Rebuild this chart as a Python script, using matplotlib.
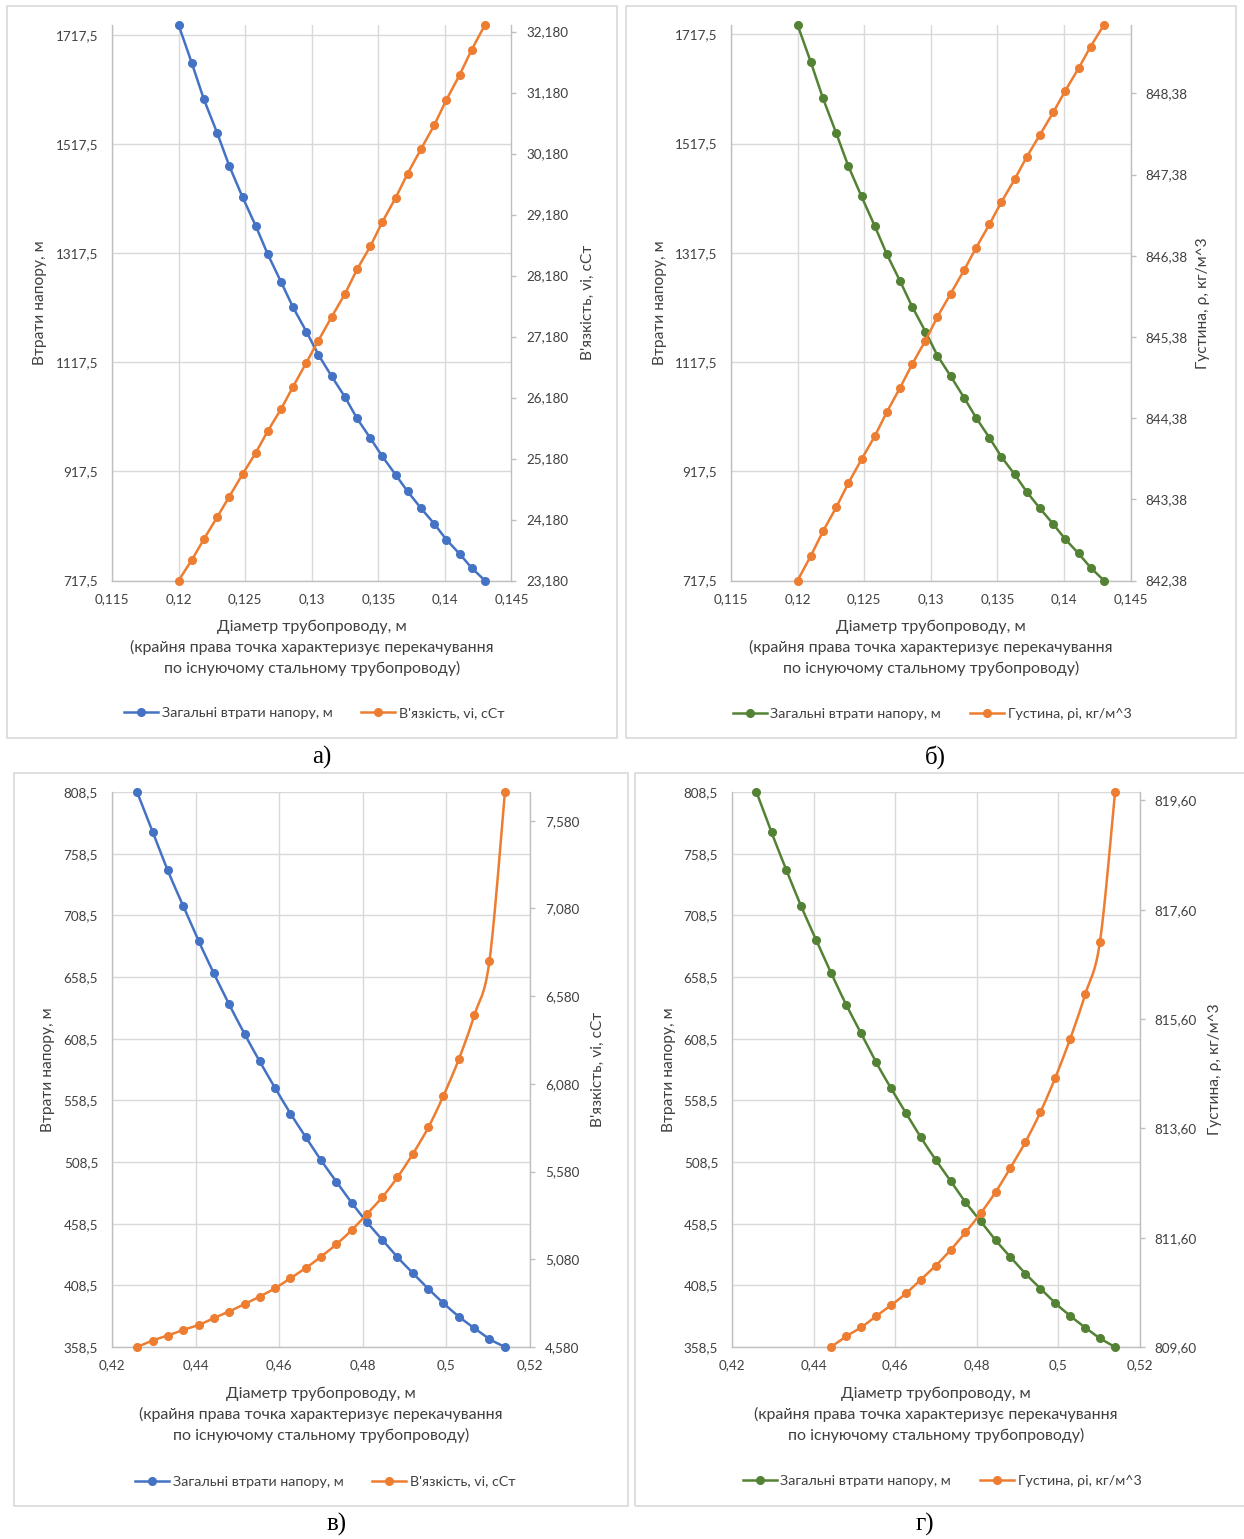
import numpy as np
import matplotlib
matplotlib.use('Agg')
import matplotlib.pyplot as plt
from matplotlib.patches import Rectangle
from matplotlib.ticker import FixedLocator, FixedFormatter

# ---------------- data ----------------
diam_small = [0.1200, 0.1210, 0.1219, 0.1229, 0.1238, 0.1248, 0.1258, 0.1267, 0.1277,
              0.1286, 0.1296, 0.1305, 0.1315, 0.1325, 0.1334, 0.1344, 0.1353, 0.1363,
              0.1372, 0.1382, 0.1392, 0.1401, 0.1411, 0.1420, 0.1430]
diam_large = [0.4260, 0.4297, 0.4333, 0.4370, 0.4407, 0.4443, 0.4480, 0.4517, 0.4553,
              0.4590, 0.4627, 0.4663, 0.4700, 0.4737, 0.4773, 0.4810, 0.4847, 0.4883,
              0.4920, 0.4957, 0.4993, 0.5030, 0.5067, 0.5103, 0.5140]

head_a = [1735.2, 1665.0, 1599.0, 1537.3, 1477.5, 1420.0, 1366.8, 1315.0, 1264.2, 1217.8,
          1173.3, 1131.1, 1091.4, 1053.4, 1014.4, 978.3, 944.8, 911.2, 880.6, 850.0,
          821.4, 792.6, 766.4, 740.8, 717.5]
visc_a = [23.180, 23.518, 23.858, 24.220, 24.553, 24.921, 25.276, 25.632, 25.993, 26.360,
          26.754, 27.115, 27.504, 27.882, 28.281, 28.659, 29.059, 29.454, 29.853, 30.252,
          30.646, 31.057, 31.467, 31.878, 32.288]

head_b = [1734.6, 1666.3, 1600.9, 1536.7, 1476.8, 1420.7, 1366.3, 1315.0, 1265.5, 1219.1,
          1173.3, 1129.3, 1091.4, 1052.3, 1015.7, 979.0, 944.2, 911.8, 880.1, 849.5,
          820.7, 793.2, 767.0, 741.3, 717.5]
dens_b = [842.380, 842.685, 842.984, 843.280, 843.576, 843.872, 844.159, 844.455, 844.756,
          845.043, 845.336, 845.627, 845.915, 846.202, 846.477, 846.766, 847.041, 847.321,
          847.596, 847.871, 848.147, 848.413, 848.689, 848.956, 849.223]

head_v = [808.5, 776.3, 745.2, 716.3, 687.9, 661.9, 636.5, 612.4, 590.3, 568.6, 547.8,
          528.9, 510.0, 492.4, 475.6, 459.7, 445.3, 431.3, 418.3, 405.6, 394.0, 383.1,
          373.7, 365.0, 358.5]
visc_v = [4.580, 4.617, 4.645, 4.677, 4.705, 4.744, 4.782, 4.825, 4.867, 4.915, 4.972,
          5.029, 5.095, 5.166, 5.245, 5.338, 5.435, 5.548, 5.682, 5.833, 6.013, 6.222,
          6.473, 6.781, 7.744]

head_g = [808.5, 775.8, 745.5, 715.7, 688.1, 661.9, 636.2, 612.7, 589.7, 568.4, 548.1,
          528.6, 510.2, 492.9, 475.9, 460.5, 445.1, 431.5, 418.0, 405.8, 394.2, 383.7,
          374.2, 365.6, 358.5]
dens_g = [np.nan, np.nan, np.nan, np.nan, np.nan,
          809.600, 809.794, 809.959, 810.160, 810.361, 810.581, 810.831, 811.087, 811.380,
          811.697, 812.044, 812.436, 812.875, 813.350, 813.899, 814.521, 815.240, 816.058,
          817.015, 819.754]

xticks_small = [0.115, 0.12, 0.125, 0.13, 0.135, 0.14, 0.145]
xlabels_small = ['0,115', '0,12', '0,125', '0,13', '0,135', '0,14', '0,145']
xticks_large = [0.42, 0.44, 0.46, 0.48, 0.50, 0.52]
xlabels_large = ['0,42', '0,44', '0,46', '0,48', '0,5', '0,52']

lticks_top = [717.5, 917.5, 1117.5, 1317.5, 1517.5, 1717.5]
llabels_top = ['717,5', '917,5', '1117,5', '1317,5', '1517,5', '1717,5']
lticks_bot = [358.5, 408.5, 458.5, 508.5, 558.5, 608.5, 658.5, 708.5, 758.5, 808.5]
llabels_bot = ['358,5', '408,5', '458,5', '508,5', '558,5', '608,5', '658,5', '708,5',
               '758,5', '808,5']

rticks_a = [23.18, 24.18, 25.18, 26.18, 27.18, 28.18, 29.18, 30.18, 31.18, 32.18]
rlabels_a = ['23,180', '24,180', '25,180', '26,180', '27,180', '28,180', '29,180',
             '30,180', '31,180', '32,180']
rticks_b = [842.38, 843.38, 844.38, 845.38, 846.38, 847.38, 848.38]
rlabels_b = ['842,38', '843,38', '844,38', '845,38', '846,38', '847,38', '848,38']
rticks_v = [4.58, 5.08, 5.58, 6.08, 6.58, 7.08, 7.58]
rlabels_v = ['4,580', '5,080', '5,580', '6,080', '6,580', '7,080', '7,580']
rticks_g = [809.6, 811.6, 813.6, 815.6, 817.6, 819.6]
rlabels_g = ['809,60', '811,60', '813,60', '815,60', '817,60', '819,60']

xlabel_lines = ['Діаметр трубопроводу, м',
                '(крайня права точка характеризує перекачування',
                'по існуючому стальному трубопроводу)']
ylabel_left = 'Втрати напору, м'
ylabel_visc = "В'язкість, vi, сСт"
ylabel_dens = 'Густина, ρ, кг/м^3'
leg_head = 'Загальні втрати напору, м'
leg_visc = "В'язкість, vi, сСт"
leg_dens = 'Густина, ρі, кг/м^3'
panel_tags = ['а)', 'б)', 'в)', 'г)']

# ---------------- style ----------------
BLUE = '#4472C4'
ORANGE = '#ED7D31'
GREEN = '#548235'
GRID = '#D9D9D9'
AXIS = '#BFBFBF'
TXT = '#404040'
FONT = ['Lato', 'DejaVu Sans']
plt.rcParams['font.family'] = FONT

W, H, DPI = 1244, 1539, 100
fig = plt.figure(figsize=(W / DPI, H / DPI), dpi=DPI)
fig.patch.set_facecolor('white')


def frac_rect(x0, y0, x1, y1):
    return [x0 / W, 1 - y1 / H, (x1 - x0) / W, (y1 - y0) / H]


def fx(x):
    return x / W


def fy(y):
    return 1 - y / H


def smooth(x, y, n=16):
    x = np.asarray(x, float)
    y = np.asarray(y, float)
    m = ~np.isnan(y)
    P = np.column_stack([x[m], y[m]])
    E = np.vstack([P[0], P, P[-1]])
    t = np.linspace(0, 1, n + 1)[1:][:, None]
    out = [P[:1]]
    for i in range(len(P) - 1):
        p0, p1, p2, p3 = E[i], E[i + 1], E[i + 2], E[i + 3]
        c1 = p1 + (p2 - p0) / 6.0
        c2 = p2 - (p3 - p1) / 6.0
        B = (1 - t) ** 3 * p1 + 3 * (1 - t) ** 2 * t * c1 + 3 * (1 - t) * t ** 2 * c2 + t ** 3 * p2
        out.append(B)
    o = np.vstack(out)
    return o[:, 0], o[:, 1]


def draw_panel(frame, plot, diam, left_vals, right_vals, lcolor, xt, xl, lt, ll, rt, rl,
               rylabel, legname, xlim, ylab_x, rylab_x, leg_xy, xlab_y, tag, tag_xy, smoothed):
    # frame
    fig.patches.append(Rectangle((fx(frame[0]), fy(frame[3])),
                                 (frame[2] - frame[0]) / W, (frame[3] - frame[1]) / H,
                                 transform=fig.transFigure, fill=False,
                                 edgecolor=GRID, linewidth=1.2))
    ax = fig.add_axes(frac_rect(*plot))
    ax.set_facecolor('none')
    ax2 = ax.twinx()
    ax.set_xlim(*xlim)
    ax.set_ylim(min(left_vals), max(left_vals))
    rv = np.asarray(right_vals, float)
    ax2.set_ylim(np.nanmin(rv), np.nanmax(rv))

    for s in ['top', 'right']:
        ax.spines[s].set_visible(False)
    for s in ['left', 'bottom']:
        ax.spines[s].set_color(AXIS)
        ax.spines[s].set_linewidth(1.0)
    for s in ['top', 'left', 'bottom']:
        ax2.spines[s].set_visible(False)
    ax2.spines['right'].set_color(AXIS)
    ax2.spines['right'].set_linewidth(1.0)

    ax.xaxis.set_major_locator(FixedLocator(xt))
    ax.xaxis.set_major_formatter(FixedFormatter(xl))
    ax.yaxis.set_major_locator(FixedLocator(lt))
    ax.yaxis.set_major_formatter(FixedFormatter(ll))
    ax2.yaxis.set_major_locator(FixedLocator(rt))
    ax2.yaxis.set_major_formatter(FixedFormatter(rl))

    ax.tick_params(axis='x', length=0, pad=9, labelsize=9.7, labelcolor=TXT)
    ax.tick_params(axis='y', length=0, pad=10, labelsize=9.7, labelcolor=TXT)
    ax2.tick_params(axis='y', length=3.5, width=1.0, color=AXIS, pad=7.5, labelsize=9.7,
                    labelcolor=TXT, direction='out')
    ax.grid(True, color=GRID, linewidth=1.0)
    ax.set_axisbelow(True)

    kw = dict(linewidth=1.8, marker='o', markersize=5.5, clip_on=False, zorder=3)
    if smoothed:
        sx, sy = smooth(diam, left_vals)
        ax.plot(sx, sy, color=lcolor, linewidth=1.8, clip_on=False, zorder=3)
        ax.plot(diam, left_vals, color=lcolor, linestyle='none', marker='o',
                markersize=5.5, clip_on=False, zorder=3)
        sx, sy = smooth(diam, right_vals)
        ax2.plot(sx, sy, color=ORANGE, linewidth=1.8, clip_on=False, zorder=3)
        ax2.plot(diam, right_vals, color=ORANGE, linestyle='none', marker='o',
                 markersize=5.5, clip_on=False, zorder=3)
    else:
        ax.plot(diam, left_vals, color=lcolor, **kw)
        ax2.plot(diam, right_vals, color=ORANGE, **kw)

    cy = (plot[1] + plot[3]) / 2
    cx = (plot[0] + plot[2]) / 2
    fig.text(fx(ylab_x), fy(cy), ylabel_left, rotation=90, ha='center', va='center',
             fontsize=11.2, color=TXT)
    fig.text(fx(rylab_x), fy(cy), rylabel, rotation=90, ha='center', va='center',
             fontsize=11.2, color=TXT)
    for i, line in enumerate(xlabel_lines):
        fig.text(fx(cx), fy(xlab_y + 20.8 * i), line, ha='center', va='center',
                 fontsize=11.5, color=TXT)

    h1 = plt.Line2D([], [], color=lcolor, linewidth=1.8, marker='o', markersize=5.5)
    h2 = plt.Line2D([], [], color=ORANGE, linewidth=1.8, marker='o', markersize=5.5)
    fig.legend([h1, h2], [leg_head, legname], loc='center',
               bbox_to_anchor=(fx(leg_xy[0]), fy(leg_xy[1])), ncol=2, frameon=False,
               fontsize=10.3, labelcolor=TXT, handlelength=2.4, handletextpad=0.25,
               columnspacing=2.0, numpoints=1)
    fig.text(fx(tag_xy[0]), fy(tag_xy[1]), tag, ha='center', va='center', fontsize=18,
             family=['Liberation Serif', 'DejaVu Serif'], color='black')


draw_panel((7, 6, 617, 738), (112, 25, 511.5, 580.5), diam_small, head_a, visc_a, BLUE,
           xticks_small, xlabels_small, lticks_top, llabels_top, rticks_a, rlabels_a,
           ylabel_visc, leg_visc, (0.115, 0.145), 40, 588, (314, 713), 626.5,
           panel_tags[0], (322, 757), False)
draw_panel((626, 6, 1236, 738), (731, 25, 1130.5, 580.5), diam_small, head_b, dens_b, GREEN,
           xticks_small, xlabels_small, lticks_top, llabels_top, rticks_b, rlabels_b,
           ylabel_dens, leg_dens, (0.115, 0.145), 660, 1203, (932, 714), 626.5,
           panel_tags[1], (935, 757), False)
draw_panel((14, 773, 628, 1506), (112, 792, 530, 1347), diam_large, head_v, visc_v, BLUE,
           xticks_large, xlabels_large, lticks_bot, llabels_bot, rticks_v, rlabels_v,
           ylabel_visc, leg_visc, (0.42, 0.52), 48, 598, (325, 1481.5), 1394,
           panel_tags[2], (337, 1524), True)
draw_panel((635, 773, 1250, 1506), (732, 792, 1139.5, 1347), diam_large, head_g, dens_g, GREEN,
           xticks_large, xlabels_large, lticks_bot, llabels_bot, rticks_g, rlabels_g,
           ylabel_dens, leg_dens, (0.42, 0.52), 669, 1215, (942, 1481), 1393.5,
           panel_tags[3], (925, 1524), True)

fig.savefig('out.png', dpi=DPI, facecolor='white')
